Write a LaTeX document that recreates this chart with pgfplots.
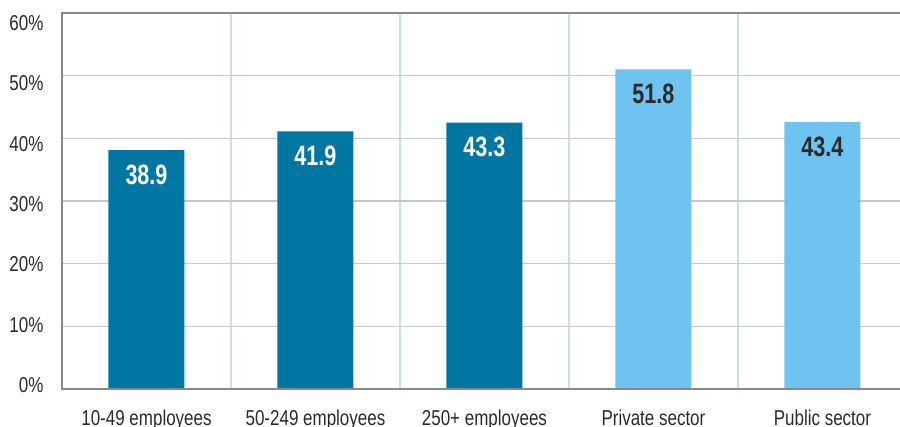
\documentclass[border=0pt]{standalone}
\usepackage{fontspec}
\setmainfont{Liberation Sans}[FakeStretch=0.79]
\newfontfamily\barfont{Liberation Sans Bold}[FakeStretch=0.77]
\usepackage{pgfplots}
\pgfplotsset{compat=1.18}
\definecolor{darkbar}{HTML}{0176A3}
\definecolor{lightbar}{HTML}{6EC3F0}
\definecolor{gridgray}{HTML}{C8C8C8}
\definecolor{vgrid}{HTML}{C8DEEC}
\definecolor{axisgray}{HTML}{88888D}
\definecolor{labelgray}{HTML}{2A2A2A}
\begin{document}
\begin{tikzpicture}
\useasboundingbox (-62pt,-37pt) rectangle (838pt,389pt);
\begin{axis}[
  at={(0,0)}, anchor=south west,
  width=838pt, height=376pt, scale only axis,
  xmin=-0.5, xmax=4.459, ymin=0, ymax=60,
  ytick={0,10,...,60},
  yticklabel={\pgfmathprintnumber{\tick}\%},
  xtick={0,1,2,3,4},
  xticklabels={10-49 employees, 50-249 employees, 250+ employees, Private sector, Public sector},
  minor xtick={0.5,1.5,2.5,3.5},
  xminorgrids, ymajorgrids,
  major grid style={draw=gridgray, line width=1.5pt},
  minor grid style={draw=vgrid, line width=1.5pt},
  axis line style={draw=none},
  major tick length=0pt, minor tick length=0pt,
  tick style={draw=none},
  ticklabel style={font=\fontsize{21.5}{22}\selectfont, text=labelgray},
  /pgf/number format/assume math mode=true,
  yticklabel style={xshift=-15pt, yshift={3.8-0.23*\tick}},
  xticklabel style={yshift=-17pt},
  ybar, bar width=76pt, bar shift=0pt,
  nodes near coords={\pgfmathprintnumber[fixed, fixed zerofill, precision=1]{\pgfplotspointmeta}},
  nodes near coords style={anchor=north, yshift=-11pt, font=\barfont\fontsize{28}{29}\selectfont},
]
\addplot[fill=darkbar, draw=none, yshift=-5pt, every node near coord/.append style={text=white}]
  coordinates {(0,38.9) (1,41.9) (2,43.3)};
\addplot[fill=lightbar, draw=none, yshift=-5pt, every node near coord/.append style={text=labelgray}]
  coordinates {(3,51.8) (4,43.4)};
\end{axis}
\draw[axisgray, line width=2.7pt] (0,0) -- (838pt,0);
\draw[axisgray, line width=2.7pt] (0,376pt) -- (838pt,376pt);
\draw[axisgray, line width=2.5pt] (0,-1.35pt) -- (0,377.35pt);
\end{tikzpicture}
\end{document}
